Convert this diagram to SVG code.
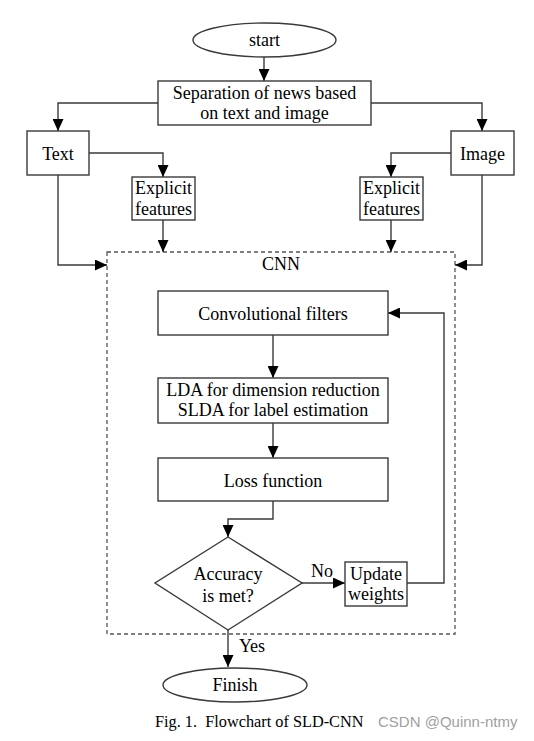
<svg xmlns="http://www.w3.org/2000/svg" width="534" height="741" viewBox="0 0 534 741">
<style>
.n{fill:#fff;stroke:#3a3a3a;stroke-width:1.4}
.t{font-family:"Liberation Serif","Times New Roman",serif;font-size:18px;fill:#000;text-anchor:middle}
.c{fill:none;stroke:#3a3a3a;stroke-width:1.4;marker-end:url(#ah)}
.cn{fill:none;stroke:#3a3a3a;stroke-width:1.4}
</style>
<defs>
<marker id="ah" markerUnits="userSpaceOnUse" markerWidth="12" markerHeight="11" refX="12" refY="5.5" orient="auto">
<path d="M0,0 L12,5.5 L0,11 z" fill="#000"/>
</marker>
</defs>
<rect width="534" height="741" fill="#fff"/>
<g id="cnn">
<rect x="107" y="252" width="348" height="382" fill="none" stroke="#555" stroke-width="1.3" stroke-dasharray="4,3"/>
<text class="t" x="281" y="270">CNN</text>
</g>
<g id="connectors">
<path class="c" d="M264,57 V81"/>
<path class="c" d="M158,103 H58 V131"/>
<path class="c" d="M371,103 H482 V131"/>
<path class="c" d="M89,153 H163 V177"/>
<path class="c" d="M451,153 H391 V177"/>
<path class="c" d="M163,220 V252"/>
<path class="c" d="M391,220 V252"/>
<path class="c" d="M58,175 V265 H107"/>
<path class="c" d="M482,175 V265 H455"/>
<path class="c" d="M273,335 V378"/>
<path class="c" d="M273,423 V458"/>
<path class="c" d="M273,501 V519 H228 V537"/>
<path class="c" d="M302,583 H345"/>
<path class="c" d="M407,583 H444 V313 H388"/>
<path class="c" d="M228,630 V667"/>
</g>
<g id="start">
<ellipse class="n" cx="264.5" cy="40" rx="71.5" ry="17"/>
<text class="t" x="264.5" y="46">start</text>
</g>
<g id="separation">
<rect class="n" x="158" y="81" width="213" height="44"/>
<text class="t" x="264.5" y="99">Separation of news based</text>
<text class="t" x="264.5" y="119">on text and image</text>
</g>
<g id="text">
<rect class="n" x="27" y="131" width="62" height="44"/>
<text class="t" x="58" y="160">Text</text>
</g>
<g id="image">
<rect class="n" x="451" y="131" width="63" height="44"/>
<text class="t" x="482.5" y="160">Image</text>
</g>
<g id="explicit-text">
<rect class="n" x="132" y="177" width="63" height="43"/>
<text class="t" x="163.5" y="194">Explicit</text>
<text class="t" x="163.5" y="215">features</text>
</g>
<g id="explicit-image">
<rect class="n" x="360" y="177" width="63" height="43"/>
<text class="t" x="391.5" y="194">Explicit</text>
<text class="t" x="391.5" y="215">features</text>
</g>
<g id="conv">
<rect class="n" x="158" y="291" width="230" height="44"/>
<text class="t" x="273" y="320">Convolutional filters</text>
</g>
<g id="lda">
<rect class="n" x="158" y="378" width="230" height="45"/>
<text class="t" x="273" y="396">LDA for dimension reduction</text>
<text class="t" x="273" y="416">SLDA for label estimation</text>
</g>
<g id="loss">
<rect class="n" x="158" y="458" width="230" height="43"/>
<text class="t" x="273" y="487">Loss function</text>
</g>
<g id="accuracy">
<polygon class="n" points="228,537 302,583 228,630 155,583"/>
<text class="t" x="228" y="580">Accuracy</text>
<text class="t" x="228" y="602">is met?</text>
</g>
<g id="update">
<rect class="n" x="345" y="562" width="62" height="44"/>
<text class="t" x="376" y="580">Update</text>
<text class="t" x="376" y="600">weights</text>
</g>
<g id="finish">
<ellipse class="n" cx="235" cy="685" rx="72" ry="17"/>
<text class="t" x="235" y="691">Finish</text>
</g>
<g id="labels">
<text class="t" x="322" y="577">No</text>
<text class="t" x="252" y="652">Yes</text>
</g>
<g id="caption">
<text x="155" y="727" font-family="Liberation Serif,serif" font-size="16.3" fill="#000" xml:space="preserve">Fig. 1.  Flowchart of SLD-CNN</text>
<text x="378" y="727" font-family="Liberation Sans,sans-serif" font-size="15" fill="#a0a0a0">CSDN @Quinn-ntmy</text>
</g>
</svg>
